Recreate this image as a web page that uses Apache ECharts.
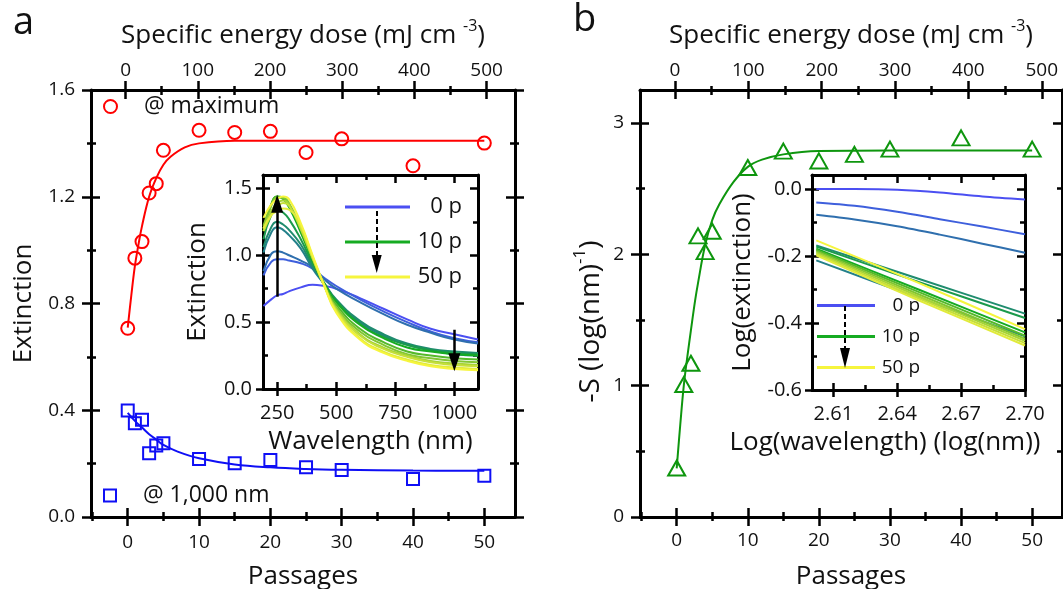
<!DOCTYPE html>
<html><head><meta charset="utf-8">
<script src="https://cdn.jsdelivr.net/npm/echarts@6/dist/echarts.min.js"></script>
<style>html,body{margin:0;padding:0;background:#fff}#c{width:1063px;height:589px}</style>
</head><body><div id="c"></div>
<script>
const FONT = 'Open Sans';
const INK = '#111';

// ---------- Panel a : extinction vs passages ----------
const passA = [0, 1, 2, 3, 4, 5, 10, 15, 20, 25, 30, 40, 50];
const extMax = [0.707, 0.97, 1.032, 1.214, 1.249, 1.374, 1.449, 1.441, 1.445, 1.366, 1.417, 1.316, 1.401];
const ext1000 = [0.399, 0.351, 0.364, 0.239, 0.268, 0.276, 0.217, 0.201, 0.214, 0.186, 0.176, 0.142, 0.155];
const fitMaxX = [0, 0.5, 1, 1.5, 2, 3, 4, 5, 6, 8, 10, 15, 20, 30, 40, 50];
const fitMaxY = [0.71, 0.83, 0.94, 1.02, 1.09, 1.20, 1.27, 1.32, 1.35, 1.385, 1.40, 1.41, 1.41, 1.41, 1.41, 1.41];
const fit1000X = [0, 1, 2, 3, 4, 5, 7, 10, 15, 20, 25, 30, 40, 50];
const fit1000Y = [0.39, 0.36, 0.335, 0.31, 0.29, 0.27, 0.245, 0.22, 0.197, 0.186, 0.18, 0.177, 0.174, 0.173];

// ---------- Panel b : slope vs passages ----------
const passB = [0, 1, 2, 3, 4, 5, 10, 15, 20, 25, 30, 40, 50];
const slopeS = [0.373, 1.008, 1.17, 2.14, 2.02, 2.175, 2.66, 2.785, 2.71, 2.76, 2.80, 2.886, 2.80];
const fitSX = [0, 0.5, 1, 1.5, 2, 2.6, 3, 4, 5, 6, 8, 10, 12, 15, 20, 30, 50];
const fitSY = [0.37, 0.70, 1.0, 1.22, 1.42, 1.65, 1.78, 2.07, 2.26, 2.38, 2.55, 2.665, 2.72, 2.76, 2.785, 2.79, 2.79];

// ---------- Inset a : spectra ----------
const wavelength = [192, 225, 250, 275, 300, 350, 400, 450, 500, 600, 700, 800, 900, 1000, 1100];
const specP0  = [0.62, 0.67, 0.70, 0.71, 0.73, 0.76, 0.78, 0.77, 0.75, 0.68, 0.60, 0.52, 0.45, 0.41, 0.37];
const specP1  = [0.85, 0.95, 0.97, 0.97, 0.96, 0.94, 0.90, 0.83, 0.77, 0.67, 0.58, 0.50, 0.43, 0.38, 0.35];
const specP2  = [0.88, 1.01, 1.03, 1.02, 1.00, 0.96, 0.91, 0.82, 0.75, 0.65, 0.56, 0.48, 0.42, 0.37, 0.34];
const specP3  = [1.02, 1.17, 1.21, 1.19, 1.15, 1.05, 0.90, 0.78, 0.66, 0.50, 0.40, 0.33, 0.29, 0.26, 0.25];
const specP4  = [1.06, 1.21, 1.25, 1.23, 1.19, 1.08, 0.92, 0.79, 0.67, 0.51, 0.41, 0.34, 0.30, 0.28, 0.27];
const specP5  = [1.12, 1.30, 1.34, 1.32, 1.27, 1.12, 0.94, 0.79, 0.66, 0.49, 0.39, 0.33, 0.29, 0.27, 0.26];
const specP10 = [1.18, 1.38, 1.44, 1.42, 1.36, 1.17, 0.96, 0.78, 0.65, 0.48, 0.38, 0.31, 0.28, 0.26, 0.25];
const specP15 = [1.20, 1.38, 1.44, 1.43, 1.38, 1.19, 0.97, 0.78, 0.63, 0.45, 0.35, 0.28, 0.25, 0.23, 0.22];
const specP20 = [1.22, 1.37, 1.43, 1.43, 1.39, 1.20, 0.98, 0.77, 0.61, 0.43, 0.33, 0.26, 0.23, 0.21, 0.20];
const specP25 = [1.20, 1.33, 1.39, 1.41, 1.38, 1.20, 0.98, 0.77, 0.60, 0.41, 0.31, 0.25, 0.21, 0.19, 0.18];
const specP30 = [1.18, 1.30, 1.36, 1.39, 1.37, 1.20, 0.98, 0.77, 0.59, 0.40, 0.30, 0.24, 0.20, 0.18, 0.17];
const specP40 = [1.20, 1.30, 1.33, 1.35, 1.34, 1.22, 0.99, 0.77, 0.58, 0.38, 0.28, 0.22, 0.18, 0.16, 0.15];
const specP50 = [1.28, 1.38, 1.42, 1.44, 1.42, 1.24, 1.00, 0.77, 0.57, 0.37, 0.27, 0.21, 0.17, 0.15, 0.14];
const specPassages = [0, 1, 2, 3, 4, 5, 10, 15, 20, 25, 30, 40, 50];
const specColors = ['#4b4ff2', '#3e5fdc', '#2f6fae', '#23808a', '#1f8c6e', '#1b9a4c', '#16ab22',
                    '#55b92a', '#82c632', '#a6d336', '#c6df39', '#e1eb3b', '#f6f53d'];

// ---------- Inset b : log-log spectra ----------
const logWlTop = [2.602, 2.62, 2.64, 2.66, 2.68, 2.70];
const logExtP0 = [0.000, 0.000, -0.002, -0.010, -0.022, -0.031];
const logExtP1 = [-0.040, -0.050, -0.068, -0.090, -0.112, -0.135];
const logExtP2 = [-0.077, -0.091, -0.111, -0.136, -0.163, -0.190];
const logWlBunch = [2.602, 2.65, 2.70];
const logExtP3  = [-0.213, -0.325, -0.440];
const logExtP4  = [-0.168, -0.268, -0.372];
const logExtP5  = [-0.172, -0.277, -0.385];
const logExtP10 = [-0.178, -0.300, -0.428];
const logExtP15 = [-0.182, -0.307, -0.438];
const logExtP20 = [-0.186, -0.314, -0.447];
const logExtP25 = [-0.190, -0.320, -0.453];
const logExtP30 = [-0.194, -0.326, -0.460];
const logExtP40 = [-0.198, -0.332, -0.467];
const logExtP50 = [-0.153, -0.280, -0.418];

// ---------- tick labels ----------
const passTicks = [0, 10, 20, 30, 40, 50];
const passMinor = [-5, 5, 15, 25, 35, 45];
const doseTicks = [0, 100, 200, 300, 400, 500];
const doseMinor = [50, 150, 250, 350, 450];
const extTicks = [0, 0.4, 0.8, 1.2, 1.6];
const extMinor = [0.2, 0.6, 1.0, 1.4];
const sTicks = [0, 1, 2, 3];
const sMinor = [0.5, 1.5, 2.5];
const wlTicks = [250, 500, 750, 1000];
const wlMinor = [375, 625, 875];
const inExtTicks = [0, 0.5, 1.0, 1.5];
const inExtMinor = [0.25, 0.75, 1.25];
const lwlTicks = [2.61, 2.64, 2.67, 2.70];
const lwlMinor = [2.625, 2.655, 2.685];
const lextTicks = [-0.6, -0.4, -0.2, 0];
const lextMinor = [-0.5, -0.3, -0.1];

// ---------- axis builder ----------
const xAxis = [], yAxis = [];
function axisSet(list, o) {
  const base = {type: 'value', gridIndex: o.grid, position: o.pos, min: o.min, max: o.max,
    splitLine: {show: false}, silent: true, minorTick: {show: false}};
  const tickStyle = {color: '#000', width: 2.5};
  const main = Object.assign({}, base, {
    axisLine: {show: true, onZero: false, lineStyle: {color: '#000', width: 3}},
    axisTick: {show: !!o.outMaj, inside: false, length: o.outMaj || 0, customValues: o.major, lineStyle: tickStyle},
    axisLabel: o.fmt ? {show: true, customValues: o.major, formatter: o.fmt, margin: o.margin,
      fontSize: o.fs, fontFamily: FONT, color: INK} : {show: false}
  });
  if (o.name) {
    main.name = o.name; main.nameLocation = 'middle'; main.nameGap = o.nameGap;
    main.nameTextStyle = o.nameStyle;
  }
  const idx = list.length; list.push(main);
  const extra = (vals, len, inside) => list.push(Object.assign({}, base, {
    axisLine: {show: false, onZero: false}, axisLabel: {show: false},
    axisTick: {show: true, inside: inside, length: len, customValues: vals, lineStyle: tickStyle}}));
  if (o.inMaj) extra(o.major, o.inMaj, true);
  if (o.minor && o.inMin) extra(o.minor, o.inMin, true);
  if (o.minor && o.outMin) extra(o.minor, o.outMin, false);
  return idx;
}
const fmt0 = v => String(Math.round(v));
const fmt1 = v => v.toFixed(1);
const fmt2 = v => v.toFixed(2);
const NAME_FS = 26;
const supRich = (fs, lh, sfs) => ({
  n: {fontSize: fs, fontFamily: FONT, color: INK, lineHeight: lh, verticalAlign: 'bottom'},
  s: {fontSize: sfs, fontFamily: FONT, color: INK, lineHeight: sfs, verticalAlign: 'top'}
});
const nameStyle = (fs, extra) => Object.assign({fontSize: fs, fontFamily: FONT, color: INK, lineHeight: Math.round(fs * 1.2)}, extra || {});
const doseName = '{n|Specific energy dose (mJ cm }{s|-3}{n|)}';

// Panel a (grid 0)
const xa = axisSet(xAxis, {grid: 0, pos: 'bottom', min: -5.15, max: 54.3, major: passTicks, minor: passMinor,
  outMaj: 9, inMaj: 9, inMin: 5, outMin: 4, fmt: fmt0, fs: 19, margin: 16,
  name: 'Passages', nameGap: 44, nameStyle: nameStyle(NAME_FS)});
axisSet(xAxis, {grid: 0, pos: 'top', min: -47.9, max: 539.3, major: doseTicks, minor: doseMinor,
  outMaj: 9, inMaj: 9, inMin: 5, outMin: 4, fmt: fmt0, fs: 19, margin: 10,
  name: doseName, nameGap: 41, nameStyle: {rich: supRich(NAME_FS, 31, 16)}});
const ya = axisSet(yAxis, {grid: 0, pos: 'left', min: 0, max: 1.6, major: extTicks, minor: extMinor,
  outMaj: 9, inMaj: 9, inMin: 5, outMin: 4, fmt: fmt1, fs: 19, margin: 16,
  name: 'Extinction', nameGap: 52, nameStyle: nameStyle(NAME_FS)});
axisSet(yAxis, {grid: 0, pos: 'right', min: 0, max: 1.6, major: extTicks, minor: extMinor,
  outMaj: 9, inMaj: 9, inMin: 5, outMin: 4});

// Inset a (grid 1)
const xia = axisSet(xAxis, {grid: 1, pos: 'bottom', min: 190, max: 1100, major: wlTicks, minor: wlMinor,
  outMaj: 7, inMaj: 7, inMin: 5, fmt: fmt0, fs: 20, margin: 14,
  name: 'Wavelength (nm)', nameGap: 37, nameStyle: nameStyle(NAME_FS)});
axisSet(xAxis, {grid: 1, pos: 'top', min: 190, max: 1100, major: wlTicks, minor: wlMinor,
  outMaj: 0, inMaj: 8, inMin: 5});
const yia = axisSet(yAxis, {grid: 1, pos: 'left', min: 0, max: 1.6, major: inExtTicks, minor: inExtMinor,
  outMaj: 7, inMaj: 7, inMin: 5, fmt: fmt1, fs: 20, margin: 11,
  name: 'Extinction', nameGap: 50, nameStyle: nameStyle(NAME_FS)});
axisSet(yAxis, {grid: 1, pos: 'right', min: 0, max: 1.6, major: inExtTicks, minor: inExtMinor,
  outMaj: 0, inMaj: 8, inMin: 5});

// Panel b (grid 2)
const xb = axisSet(xAxis, {grid: 2, pos: 'bottom', min: -5.16, max: 54.2, major: passTicks, minor: passMinor,
  outMaj: 9, inMaj: 9, inMin: 5, outMin: 4, fmt: fmt0, fs: 19, margin: 14,
  name: 'Passages', nameGap: 44, nameStyle: nameStyle(NAME_FS)});
axisSet(xAxis, {grid: 2, pos: 'top', min: -47.7, max: 527.6, major: doseTicks, minor: doseMinor,
  outMaj: 9, inMaj: 9, inMin: 5, outMin: 4, fmt: fmt0, fs: 19, margin: 10,
  name: doseName, nameGap: 41, nameStyle: {rich: supRich(NAME_FS, 31, 16)}});
const yb = axisSet(yAxis, {grid: 2, pos: 'left', min: 0, max: 3.25, major: sTicks, minor: sMinor,
  outMaj: 9, inMaj: 9, inMin: 5, outMin: 4, fmt: fmt0, fs: 19, margin: 16,
  name: '{n|-S (log(nm)}{s|-1}{n|)}', nameGap: 35,
  nameStyle: {padding: [0, 36, 0, 0], rich: supRich(28, 33, 17)}});
axisSet(yAxis, {grid: 2, pos: 'right', min: 0, max: 3.25, major: sTicks, minor: sMinor,
  outMaj: 9, inMaj: 9, inMin: 5, outMin: 4});

// Inset b (grid 3)
const xib = axisSet(xAxis, {grid: 3, pos: 'bottom', min: 2.6, max: 2.7, major: lwlTicks, minor: lwlMinor,
  outMaj: 7, inMaj: 7, inMin: 5, fmt: fmt2, fs: 20, margin: 14,
  name: 'Log(wavelength) (log(nm))', nameGap: 37, nameStyle: nameStyle(NAME_FS, {padding: [0, 67, 0, 0]})});
axisSet(xAxis, {grid: 3, pos: 'top', min: 2.6, max: 2.7, major: lwlTicks, minor: lwlMinor,
  outMaj: 0, inMaj: 8, inMin: 5});
const yib = axisSet(yAxis, {grid: 3, pos: 'left', min: -0.6, max: 0.042, major: lextTicks, minor: lextMinor,
  outMaj: 7, inMaj: 7, inMin: 5, fmt: fmt1, fs: 20, margin: 10,
  name: 'Log(extinction)', nameGap: 54, nameStyle: nameStyle(NAME_FS)});
axisSet(yAxis, {grid: 3, pos: 'right', min: -0.6, max: 0.042, major: lextTicks, minor: lextMinor,
  outMaj: 0, inMaj: 8, inMin: 5});

// ---------- series ----------
const zip = (xs, ys) => xs.map((x, i) => [x, ys[i]]);
const series = [];
const RED = '#ff0000', BLUE = '#0f0ff5', GREEN = '#0e960e';
const hollow = c => ({color: 'rgba(0,0,0,0)', borderColor: c, borderWidth: 2, opacity: 1});

series.push({type: 'line', name: 'fit max', xAxisIndex: xa, yAxisIndex: ya, data: zip(fitMaxX, fitMaxY),
  smooth: 0.4, showSymbol: false, lineStyle: {color: RED, width: 2}, itemStyle: {color: RED}, z: 3});
series.push({type: 'line', name: 'fit 1000', xAxisIndex: xa, yAxisIndex: ya, data: zip(fit1000X, fit1000Y),
  smooth: 0.4, showSymbol: false, lineStyle: {color: BLUE, width: 2}, itemStyle: {color: BLUE}, z: 3});
series.push({type: 'scatter', name: '@ maximum', xAxisIndex: xa, yAxisIndex: ya, data: zip(passA, extMax),
  symbol: 'circle', symbolSize: 13, itemStyle: hollow(RED), z: 4});
series.push({type: 'scatter', name: '@ 1,000 nm', xAxisIndex: xa, yAxisIndex: ya, data: zip(passA, ext1000),
  symbol: 'rect', symbolSize: 12, itemStyle: hollow(BLUE), z: 4});

series.push({type: 'line', name: 'fit S', xAxisIndex: xb, yAxisIndex: yb, data: zip(fitSX, fitSY),
  smooth: 0.4, showSymbol: false, lineStyle: {color: GREEN, width: 2}, itemStyle: {color: GREEN}, z: 3});
series.push({type: 'scatter', name: 'S', xAxisIndex: xb, yAxisIndex: yb, data: zip(passB, slopeS),
  symbol: 'triangle', symbolSize: [17, 15], itemStyle: hollow(GREEN), z: 4});

const specA = [specP0, specP1, specP2, specP3, specP4, specP5, specP10, specP15, specP20, specP25, specP30, specP40, specP50];
const specB = [logExtP0, logExtP1, logExtP2, logExtP3, logExtP4, logExtP5, logExtP10, logExtP15, logExtP20, logExtP25, logExtP30, logExtP40, logExtP50];

specA.forEach((vals, i) => {
  const s = {type: 'line', name: specPassages[i] + ' p', xAxisIndex: xia, yAxisIndex: yia,
    data: zip(wavelength, vals), smooth: 0.5, showSymbol: false,
    lineStyle: {color: specColors[i], width: 2}, itemStyle: {color: specColors[i]}, z: 3};
  if (i === 0) {
    s.markLine = {silent: true, symbol: ['none', 'triangle'], symbolSize: [12, 18], label: {show: false},
      lineStyle: {color: '#000', width: 2.5, type: 'solid'},
      data: [[{coord: [250, 0.69]}, {coord: [250, 1.385]}], [{coord: [1000, 0.443]}, {coord: [1000, 0.2]}]]};
  }
  if (i === 1) {
    s.markLine = {silent: true, symbol: ['none', 'triangle'], symbolSize: [10, 18], label: {show: false},
      lineStyle: {color: '#000', width: 2, type: [5, 3]}, z: 10,
      data: [[{x: 376.7, y: 211}, {x: 376.7, y: 264}]]};
  }
  series.push(s);
});
specB.forEach((vals, i) => {
  const xs = i < 3 ? logWlTop : logWlBunch;
  const s = {type: 'line', name: specPassages[i] + ' p', xAxisIndex: xib, yAxisIndex: yib,
    data: zip(xs, vals), smooth: 0.3, showSymbol: false,
    lineStyle: {color: specColors[i], width: 2}, itemStyle: {color: specColors[i]}, z: 3};
  if (i === 0) {
    s.markLine = {silent: true, symbol: ['none', 'triangle'], symbolSize: [10, 20], label: {show: false},
      lineStyle: {color: '#000', width: 2, type: [5, 3]}, z: 10,
      data: [[{x: 845, y: 306}, {x: 845, y: 358}]]};
  }
  series.push(s);
});

const legendText = {fontSize: 23, fontFamily: FONT, color: INK, padding: [0, 0, 0, 22]};
const insetLegendRich = (w, fs) => ({fontSize: fs, fontFamily: FONT, color: INK,
  rich: {r: {width: w, align: 'right', fontSize: fs, fontFamily: FONT, color: INK}}});

const option = {
  animation: false,
  backgroundColor: '#fff',
  textStyle: {fontFamily: FONT},
  title: [
    {text: 'a', left: 13, top: 4, padding: 0, textStyle: {fontSize: 38, fontWeight: 'normal', fontFamily: FONT, color: INK}},
    {text: 'b', left: 573, top: 1, padding: 0, textStyle: {fontSize: 38, fontWeight: 'normal', fontFamily: FONT, color: INK}}
  ],
  grid: [
    {left: 91, top: 90, width: 424, height: 427, outerBoundsMode: 'none', containLabel: false},
    {left: 263, top: 175, width: 215, height: 214, outerBoundsMode: 'none', containLabel: false},
    {left: 640, top: 90, width: 422, height: 427, outerBoundsMode: 'none', containLabel: false},
    {left: 812, top: 175, width: 213, height: 215, outerBoundsMode: 'none', containLabel: false}
  ],
  xAxis: xAxis,
  yAxis: yAxis,
  legend: [
    {left: 103, top: 95, padding: 0, itemWidth: 13, itemHeight: 13, selectedMode: false, textStyle: legendText,
      data: [{name: '@ maximum', icon: 'circle', itemStyle: hollow(RED)}]},
    {left: 103, top: 484, padding: 0, itemWidth: 12, itemHeight: 12, selectedMode: false, textStyle: legendText,
      data: [{name: '@ 1,000 nm', icon: 'rect', itemStyle: hollow(BLUE)}]},
    {left: 345, top: 196, padding: 0, orient: 'vertical', itemWidth: 65, itemHeight: 3, itemGap: 13, icon: 'rect',
      selectedMode: false, data: ['0 p', '10 p', '50 p'], formatter: n => '{r|' + n + '}', textStyle: insetLegendRich(47, 22)},
    {left: 817, top: 296, padding: 0, orient: 'vertical', itemWidth: 58, itemHeight: 3, itemGap: 12, icon: 'rect',
      selectedMode: false, data: ['0 p', '10 p', '50 p'], formatter: n => '{r|' + n + '}', textStyle: insetLegendRich(40, 19)}
  ],
  series: series
};
const chart = echarts.init(document.getElementById('c'), null, {renderer: 'canvas'});
chart.setOption(option);
</script></body></html>
